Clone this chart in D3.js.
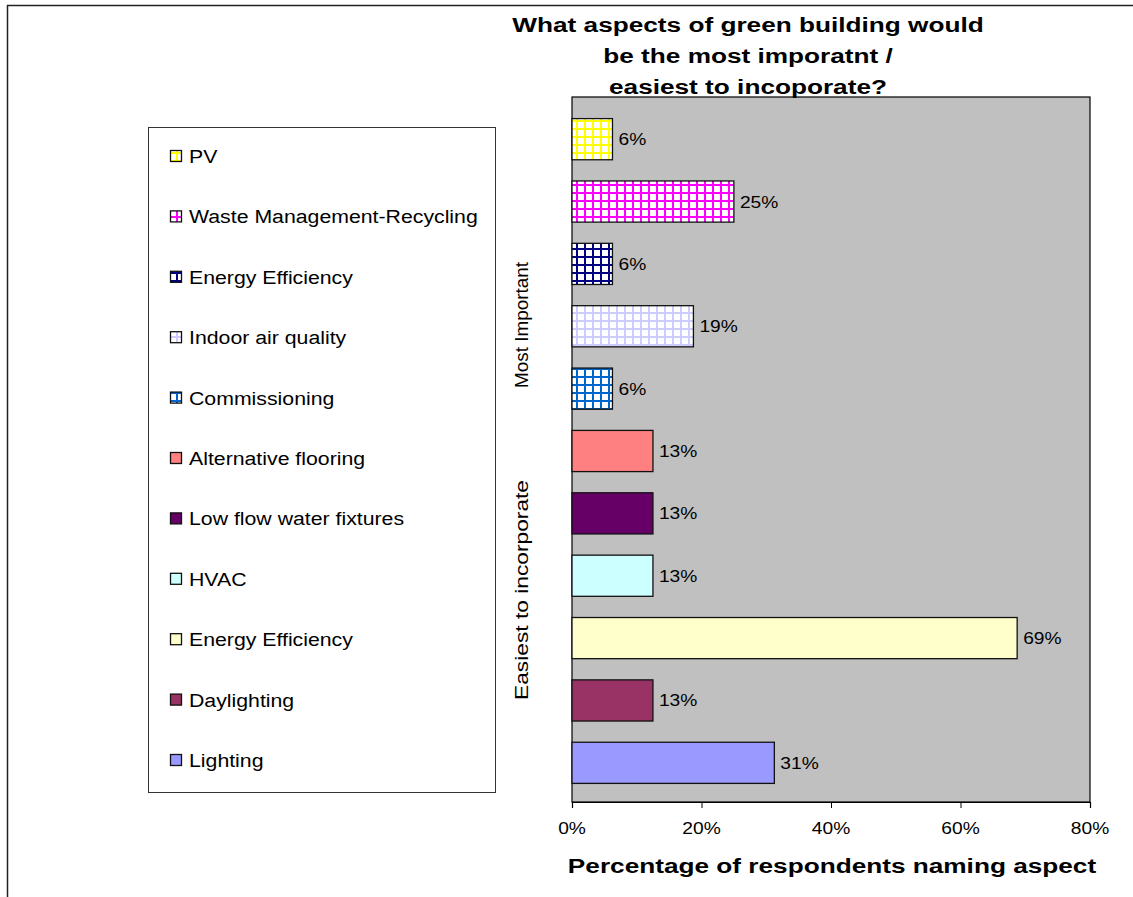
<!DOCTYPE html>
<html>
<head>
<meta charset="utf-8">
<script src="https://cdn.jsdelivr.net/npm/d3@7"></script>
<style>
  html, body { margin: 0; padding: 0; background: #fff; }
  svg { display: block; font-family: "Liberation Sans", Arial, sans-serif; }
</style>
</head>
<body>
<svg id="chart" width="1133" height="897"></svg>
<script>
// ---- data (top to bottom) ----
const categories = ["PV", "Waste Management-Recycling", "Energy Efficiency", "Indoor air quality",
  "Commissioning", "Alternative flooring", "Low flow water fixtures", "HVAC",
  "Energy Efficiency", "Daylighting", "Lighting"];
const values = [6.25, 25, 6.25, 18.75, 6.25, 12.5, 12.5, 12.5, 68.75, 12.5, 31.25];
const valueLabels = ["6%", "25%", "6%", "19%", "6%", "13%", "13%", "13%", "69%", "13%", "31%"];
const colors = ["#FFFF00", "#FF00FF", "#000080", "#CCCCFF", "#0066CC",
  "#FF8080", "#660066", "#CCFFFF", "#FFFFCC", "#993366", "#9999FF"];
const patterned = [true, true, true, true, true, false, false, false, false, false, false];
const xTicks = [0, 20, 40, 60, 80];
const groupLabels = ["Most Important", "Easiest to incorporate"];
const titleLines = ["What aspects of green building would", "be the most imporatnt /", "easiest to incoporate?"];
const xAxisTitle = "Percentage of respondents naming aspect";

const svg = d3.select("#chart");
const defs = svg.append("defs");

// grid patterns
categories.forEach((c, i) => {
  if (!patterned[i]) return;
  const p = defs.append("pattern").attr("id", "pat" + i)
    .attr("patternUnits", "userSpaceOnUse").attr("width", 8).attr("height", 8);
  p.append("rect").attr("width", 8).attr("height", 8).attr("fill", colors[i]);
  p.append("rect").attr("x", 2).attr("y", 2).attr("width", 6).attr("height", 6).attr("fill", "#fff");
});
const fillOf = i => patterned[i] ? `url(#pat${i})` : colors[i];

// outer border
svg.append("rect").attr("x", 7.5).attr("y", 5.5).attr("width", 1140).attr("height", 900)
  .attr("fill", "none").attr("stroke", "#222").attr("stroke-width", 1.5);

// plot
const plot = { left: 572, right: 1090, top: 97, bottom: 802 };
const x = d3.scaleLinear().domain([0, 80]).range([plot.left, plot.right]);
const y = d3.scaleBand().domain(d3.range(categories.length)).range([108, 794])
  .paddingInner(0.34).paddingOuter(0.17);

svg.append("rect").attr("x", plot.left).attr("y", plot.top)
  .attr("width", plot.right - plot.left).attr("height", plot.bottom - plot.top)
  .attr("fill", "#C0C0C0").attr("stroke", "#000").attr("stroke-width", 1.2);

svg.append("g").selectAll("rect").data(values).join("rect")
  .attr("x", x(0)).attr("y", (d, i) => y(i))
  .attr("width", d => x(d) - x(0)).attr("height", y.bandwidth())
  .attr("fill", (d, i) => fillOf(i)).attr("stroke", "#111").attr("stroke-width", 1.3);

function stretchedText(g, txt, tx, ty, opts) {
  return g.append("text")
    .attr("transform", `translate(${tx},${ty}) scale(${opts.sx || 1},1)`)
    .attr("text-anchor", opts.anchor || "start")
    .style("font-size", opts.size + "px")
    .style("font-weight", opts.weight || "normal")
    .attr("fill", "#000")
    .text(txt);
}

// value labels
const lab = svg.append("g");
values.forEach((v, i) => {
  stretchedText(lab, valueLabels[i], x(v) + 6, y(i) + y.bandwidth() / 2 + 6, { size: 16, sx: 1.2 });
});

// x axis
const axis = svg.append("g").attr("transform", `translate(0,${plot.bottom})`)
  .call(d3.axisBottom(x).tickValues(xTicks).tickSize(6).tickFormat(""));
axis.select(".domain").attr("stroke", "#000").attr("stroke-width", 1.2);
axis.selectAll(".tick line").attr("stroke", "#000");
xTicks.forEach(t => {
  stretchedText(svg, t + "%", x(t), 834, { size: 16, sx: 1.2, anchor: "middle" });
});
stretchedText(svg, xAxisTitle, 832, 873, { size: 20, sx: 1.31, anchor: "middle", weight: "bold" });

// title
titleLines.forEach((l, i) => {
  stretchedText(svg, l, 748, 32 + i * 31, { size: 20, sx: 1.31, anchor: "middle", weight: "bold" });
});

// group labels (rotated)
const groupCenters = [325, 590];
const groupLengths = [126, 220];
groupLabels.forEach((l, i) => {
  svg.append("text")
    .attr("transform", `translate(528,${groupCenters[i]}) rotate(-90)`)
    .attr("text-anchor", "middle")
    .attr("textLength", groupLengths[i]).attr("lengthAdjust", "spacingAndGlyphs")
    .style("font-size", "19px").text(l);
});

// legend
svg.append("rect").attr("x", 148.5).attr("y", 127.5).attr("width", 347).attr("height", 665)
  .attr("fill", "#fff").attr("stroke", "#333").attr("stroke-width", 1);
const leg = svg.append("g");
categories.forEach((c, i) => {
  const cy = 156 + i * 60.4;
  leg.append("rect").attr("x", 170.5).attr("y", cy - 5.5).attr("width", 11).attr("height", 11)
    .attr("fill", fillOf(i)).attr("stroke", "#111").attr("stroke-width", 1.3);
  stretchedText(leg, c, 189, cy + 7, { size: 19, sx: 1.12 });
});
</script>
</body>
</html>
